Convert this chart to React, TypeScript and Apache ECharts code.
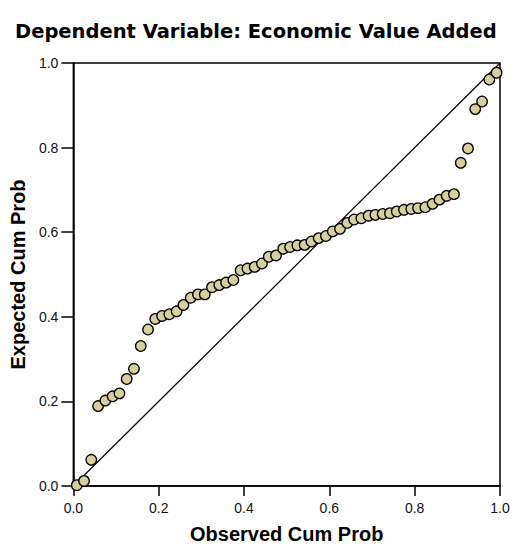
import React, { useEffect, useRef } from "react";
import * as echarts from "echarts";

const titleText = "Dependent Variable: Economic Value Added";
const xAxisName = "Observed Cum Prob";
const yAxisName = "Expected Cum Prob";

const observedCumProb = [
  0.008, 0.025, 0.042, 0.058, 0.075, 0.092, 0.108, 0.125, 0.142, 0.158,
  0.175, 0.192, 0.208, 0.225, 0.242, 0.258, 0.275, 0.292, 0.308, 0.325,
  0.342, 0.358, 0.375, 0.392, 0.408, 0.425, 0.442, 0.458, 0.475, 0.492,
  0.508, 0.525, 0.542, 0.558, 0.575, 0.592, 0.608, 0.625, 0.642, 0.658,
  0.675, 0.692, 0.708, 0.725, 0.742, 0.758, 0.775, 0.792, 0.808, 0.825,
  0.842, 0.858, 0.875, 0.892, 0.908, 0.925, 0.942, 0.958, 0.975, 0.992,
];

const expectedCumProb = [
  0.002, 0.012, 0.062, 0.189, 0.202, 0.212, 0.219, 0.253, 0.277, 0.331,
  0.37, 0.395, 0.402, 0.406, 0.413, 0.428, 0.445, 0.453, 0.453, 0.47,
  0.475, 0.481, 0.487, 0.51, 0.514, 0.518, 0.526, 0.542, 0.545, 0.561,
  0.565, 0.569, 0.57, 0.578, 0.586, 0.591, 0.602, 0.608, 0.622, 0.63,
  0.633, 0.639, 0.641, 0.643, 0.645, 0.649, 0.653, 0.655, 0.657, 0.659,
  0.667, 0.677, 0.686, 0.69, 0.764, 0.798, 0.891, 0.909, 0.961, 0.977,
];

const referenceLine = [
  [0, 0],
  [1, 1],
];

export default function App() {
  const ref = useRef<HTMLDivElement>(null);
  useEffect(() => {
    document.body.style.margin = "0";
    if (!ref.current) return;
    const chart = echarts.init(ref.current, undefined, { renderer: "svg" });
    const axisCommon = {
      type: "value" as const,
      min: 0,
      max: 1,
      interval: 0.2,
      splitLine: { show: false },
      axisLine: { show: true, lineStyle: { color: "#000", width: 1.5 } },
      nameLocation: "middle" as const,
      nameTextStyle: {
        fontFamily: "Liberation Sans, Arial, sans-serif",
        fontWeight: "bold" as const,
        fontSize: 20,
        color: "#000",
      },
    };
    chart.setOption({
      animation: false,
      backgroundColor: "#fff",
      title: {
        text: titleText,
        left: 10,
        top: 16,
        textStyle: {
          fontFamily: "DejaVu Sans, sans-serif",
          fontWeight: "bold",
          fontSize: 19.5,
          color: "#000",
        },
      },
      grid: {
        left: 73,
        top: 63,
        width: 427,
        height: 427,
        show: true,
        borderColor: "#000",
        borderWidth: 1.5,
        containLabel: false,
      },
      xAxis: {
        ...axisCommon,
        name: xAxisName,
        nameGap: 38,
        axisTick: { show: true, inside: false, length: 10, lineStyle: { color: "#000", width: 1.5 } },
        axisLabel: {
          margin: 15,
          fontSize: 14,
          color: "#111",
          fontFamily: "Liberation Sans, Arial, sans-serif",
          formatter: (v: number) => v.toFixed(1),
        },
      },
      yAxis: {
        ...axisCommon,
        name: yAxisName,
        nameGap: 40,
        axisTick: { show: true, inside: false, length: 12, lineStyle: { color: "#000", width: 1.5 } },
        axisLabel: {
          margin: 15,
          fontSize: 14,
          color: "#111",
          fontFamily: "Liberation Sans, Arial, sans-serif",
          formatter: (v: number) => v.toFixed(1),
        },
      },
      series: [
        {
          type: "line",
          data: referenceLine,
          symbol: "none",
          lineStyle: { color: "#000", width: 1.2 },
          z: 1,
          silent: true,
        },
        {
          type: "scatter",
          data: observedCumProb.map((x, i) => [x, expectedCumProb[i]]),
          symbol: "circle",
          symbolSize: 10.5,
          itemStyle: { color: "#d6d09d", borderColor: "#000", borderWidth: 1.3, opacity: 1 },
          clip: false,
          z: 3,
        },
      ],
    });
    return () => chart.dispose();
  }, []);
  return <div ref={ref} style={{ width: 516, height: 549 }} />;
}
